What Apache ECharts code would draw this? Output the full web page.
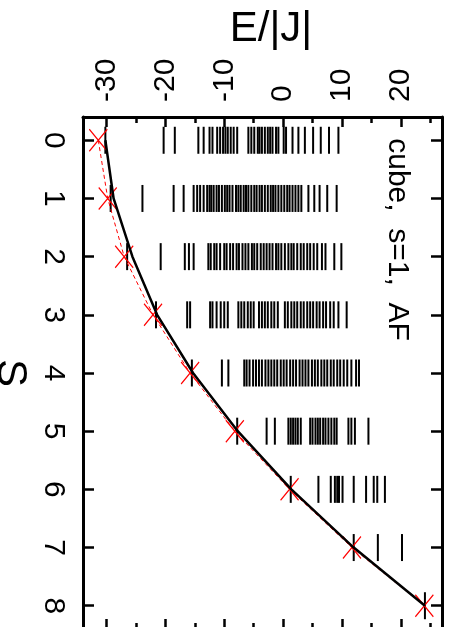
<!DOCTYPE html>
<html>
<head>
<meta charset="utf-8">
<script src="https://cdn.jsdelivr.net/npm/echarts@6/dist/echarts.min.js"></script>
<style>
html, body { margin: 0; padding: 0; background: #fff; }
#chart { width: 461px; height: 627px; }
</style>
</head>
<body>
<div id="chart"></div>
<script>
// Total spin values
const spinValues = [0, 1, 2, 3, 4, 5, 6, 7, 8];

// Energy levels E/|J| in each spin sector
const levelsS0 = [-30.2, -20.3, -18.4, -14.4, -13.5, -12.5, -12.0, -11.2, -10.7, -10.2, -9.8, -9.4, -8.9, -8.4, -7.8,
  -5.9, -5.4, -4.9, -4.3, -4.0, -3.6, -3.1, -2.6, -2.2, -1.8, -1.2, -0.8, 0.1, 0.5, 1.6, 2.6, 3.7, 5.1, 6.4, 7.8, 9.4];
const levelsS1 = [-29.3, -23.9, -18.6, -16.9, -15.2, -14.6, -14.1, -13.5, -12.9, -12.5, -12.2, -11.8, -11.3, -10.9,
  -10.4, -9.9, -9.5, -9.1, -8.6, -8.0, -7.6, -7.2, -6.7, -6.3, -5.9, -5.4, -4.9, -4.5, -4.0, -3.6, -3.1, -2.6, -2.1,
  -1.7, -1.3, -0.8, -0.3, 0.2, 0.7, 1.1, 1.6, 2.1, 2.6, 3.1, 4.3, 5.3, 6.2, 7.5, 9.1];
const levelsS2 = [-26.5, -20.8, -16.7, -16.0, -15.2, -12.7, -12.3, -11.7, -11.3, -10.7, -10.0, -9.6, -9.0, -8.5, -7.9,
  -7.5, -6.9, -6.4, -5.9, -5.3, -4.9, -4.4, -3.8, -3.3, -2.8, -2.3, -1.8, -1.2, -0.8, -0.3, 0.3, 0.9, 1.4, 1.8, 2.4,
  3.0, 3.5, 4.1, 4.6, 5.2, 5.8, 6.6, 7.2, 8.7, 9.9];
const levelsS3 = [-21.6, -16.3, -15.8, -12.4, -12.0, -11.3, -10.6, -10.0, -9.4, -7.6, -7.1, -6.6, -6.0, -5.5, -5.0,
  -4.1, -3.6, -3.1, -2.6, -2.0, -1.5, -0.9, 0.3, 0.8, 1.4, 1.9, 2.4, 3.0, 3.5, 4.1, 4.6, 5.1, 5.7, 6.2, 6.8, 7.3,
  8.0, 8.6, 9.4, 10.8];
const levelsS4 = [-15.5, -10.4, -9.3, -6.6, -6.2, -5.7, -5.1, -4.6, -4.1, -3.6, -3.0, -2.5, -2.0, -1.5, -1.0, -0.4,
  0.1, 0.6, 1.2, 1.7, 2.2, 2.8, 3.3, 3.8, 4.3, 4.9, 5.4, 5.9, 6.5, 7.0, 7.5, 8.1, 8.6, 9.2, 9.7, 10.3, 10.9, 11.6,
  12.4, 12.9];
const levelsS5 = [-7.8, -2.8, -1.4, 0.9, 1.3, 1.7, 2.1, 2.5, 3.0, 4.6, 5.0, 5.5, 5.9, 6.3, 6.8, 7.2, 7.7, 8.2, 8.7,
  9.1, 11.1, 11.6, 12.2, 14.5];
const levelsS6 = [1.3, 6.0, 8.1, 8.8, 9.2, 9.5, 10.1, 12.0, 14.1, 15.4, 16.0, 17.3];
const levelsS7 = [12.0, 16.1, 20.2];
const levelsS8 = [24.1];

// Lowest level per spin (solid black curve)
const groundCurve = [-30.2, -28.8, -25.6, -21.4, -15.3, -7.7, 1.4, 12.0, 24.1];
// Comparison values (red crosses, dashed)
const modelValues = [-31.4, -29.8, -27.0, -22.1, -15.8, -8.2, 1.1, 11.7, 24.0];

// Tick positions
const eMajorTicks = [-30, -20, -10, 0, 10, 20];
const eMinorTicks = [-25, -15, -5, 5, 15, 25];
const sTicks = [0, 1, 2, 3, 4, 5, 6, 7, 8];

const FONT = 'Liberation Sans, Arial, Helvetica, sans-serif';
const E_MIN = -34, E_MAX = 27;
const S_MIN = -0.4, S_MAX = 8.4;

const sectors = [levelsS0, levelsS1, levelsS2, levelsS3, levelsS4, levelsS5, levelsS6, levelsS7, levelsS8];
const levelData = [];
sectors.forEach(function (levels, i) {
  levels.forEach(function (e) { levelData.push([e, spinValues[i]]); });
});
const curveData = spinValues.map(function (s, i) { return [groundCurve[i], s]; });
const modelData = spinValues.map(function (s, i) { return [modelValues[i], s]; });

function eAxis(position, ticks, tickLen, withLabels, withLine) {
  return {
    type: 'value', position: position, min: E_MIN, max: E_MAX,
    axisLine: { show: withLine, onZero: false, lineStyle: { color: '#000', width: 3 } },
    axisTick: { show: true, inside: true, length: tickLen, customValues: ticks,
      lineStyle: { color: '#000', width: 2.5 } },
    axisLabel: withLabels ? { show: true, customValues: ticks, rotate: -90, fontSize: 30,
      fontFamily: FONT, color: '#000', margin: 15 } : { show: false },
    splitLine: { show: false }
  };
}

function sAxis(position, withLabels) {
  return {
    type: 'value', position: position, inverse: true, min: S_MIN, max: S_MAX,
    axisLine: { show: true, onZero: false, lineStyle: { color: '#000', width: 3 } },
    axisTick: { show: true, inside: true, length: 11, customValues: sTicks,
      lineStyle: { color: '#000', width: 2.5 } },
    axisLabel: withLabels ? { show: true, customValues: sTicks, rotate: -90, fontSize: 30,
      fontFamily: FONT, color: '#000', margin: 15 } : { show: false },
    splitLine: { show: false }
  };
}

const topAxis = eAxis('top', eMajorTicks, 10, true, true);
topAxis.name = 'E/|J|';
topAxis.nameLocation = 'middle';
topAxis.nameGap = 64;
topAxis.nameTextStyle = { fontSize: 42, fontFamily: FONT, color: '#000', padding: [0, 0, 0, 17] };

const leftAxis = sAxis('left', true);
leftAxis.name = 'S';
leftAxis.nameLocation = 'middle';
leftAxis.nameRotate = -90;
leftAxis.nameGap = 44;
leftAxis.nameTextStyle = { fontSize: 42, fontFamily: FONT, color: '#000' };

// the right frame edge carries the panel caption, set inside the plot
const rightAxis = sAxis('right', false);
rightAxis.name = 'cube,  s=1,  AF';
rightAxis.nameLocation = 'middle';
rightAxis.nameRotate = -90;
rightAxis.nameGap = -60;
rightAxis.nameTextStyle = { fontSize: 30, fontFamily: FONT, color: '#000', padding: [0, 267, 0, 0] };

const chart = echarts.init(document.getElementById('chart'));

chart.setOption({
  backgroundColor: '#fff',
  animation: false,
  grid: { left: 83, right: 19, top: 117, height: 512, containLabel: false, outerBoundsMode: 'none' },
  xAxis: [
    topAxis,
    eAxis('top', eMinorTicks, 6, false, false),
    eAxis('bottom', eMajorTicks, 10, false, true),
    eAxis('bottom', eMinorTicks, 6, false, false)
  ],
  yAxis: [leftAxis, rightAxis],
  series: [
    {
      // spectrum: one short vertical bar per level
      type: 'scatter', data: levelData, symbol: 'rect', symbolSize: [2, 27], silent: true,
      itemStyle: { color: '#000', opacity: 1 }
    },
    {
      type: 'line', data: modelData, symbol: 'none', silent: true,
      lineStyle: { color: '#ff0000', width: 1, type: [4, 3] }
    },
    {
      // red crosses
      type: 'scatter', data: modelData, symbol: 'path://M0,0L18,22M18,0L0,22', symbolSize: [18, 22],
      silent: true, itemStyle: { color: 'rgba(0,0,0,0)', borderColor: '#ff0000', borderWidth: 1.3, opacity: 1 }
    },
    {
      type: 'line', data: curveData, symbol: 'none', silent: true,
      lineStyle: { color: '#000', width: 2.5 }
    }
  ]
});
</script>
</body>
</html>
